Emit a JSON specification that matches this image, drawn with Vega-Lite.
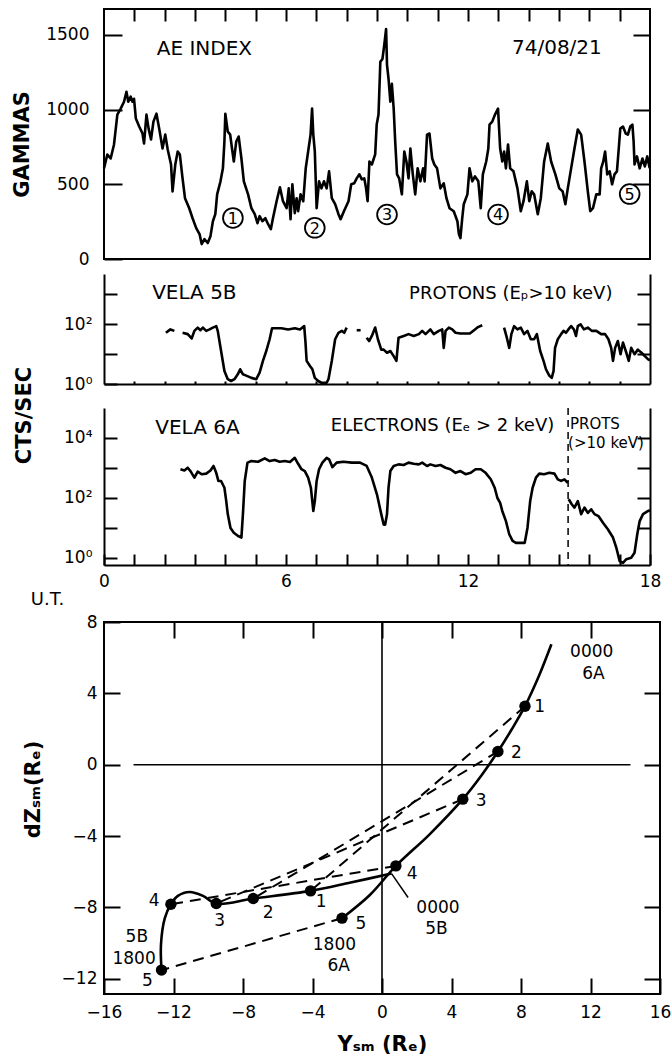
{
  "$schema": "https://vega.github.io/schema/vega-lite/v6.json",
  "padding": {"left": 9, "top": 7, "right": 2, "bottom": 4},
  "background": "white",
  "bounds": "flush",
  "spacing": 5,
  "config": {
    "font": "DejaVu Sans",
    "view": {"stroke": null},
    "axis": {"grid": false, "labelFont": "DejaVu Sans", "labelFontSize": 17, "labelColor": "black", "tickColor": "black", "tickWidth": 2, "domainColor": "black", "domainWidth": 2, "titleFont": "DejaVu Sans", "titleColor": "black", "labelFlush": false, "labelOverlap": false},
    "text": {"font": "DejaVu Sans", "color": "black"}
  },
  "datasets": {
    "ae": [
      {"h":0.0,"ae":607},{"h":0.11,"ae":700},{"h":0.22,"ae":673},{"h":0.33,"ae":767},{"h":0.44,"ae":967},{"h":0.55,"ae":1007},{"h":0.66,"ae":1053},{"h":0.74,"ae":1120},{"h":0.8,"ae":1053},{"h":0.88,"ae":1087},{"h":0.94,"ae":1053},{"h":0.99,"ae":1073},{"h":1.05,"ae":940},{"h":1.16,"ae":887},{"h":1.27,"ae":840},{"h":1.32,"ae":773},{"h":1.4,"ae":967},{"h":1.47,"ae":873},{"h":1.55,"ae":800},{"h":1.63,"ae":920},{"h":1.73,"ae":973},{"h":1.82,"ae":873},{"h":1.93,"ae":740},{"h":2.02,"ae":833},{"h":2.1,"ae":733},{"h":2.21,"ae":633},{"h":2.26,"ae":453},{"h":2.35,"ae":633},{"h":2.43,"ae":720},{"h":2.5,"ae":700},{"h":2.59,"ae":540},{"h":2.67,"ae":407},{"h":2.81,"ae":340},{"h":2.92,"ae":273},{"h":3.04,"ae":207},{"h":3.15,"ae":167},{"h":3.22,"ae":100},{"h":3.31,"ae":133},{"h":3.42,"ae":107},{"h":3.51,"ae":153},{"h":3.59,"ae":253},{"h":3.67,"ae":300},{"h":3.73,"ae":433},{"h":3.84,"ae":520},{"h":3.92,"ae":607},{"h":3.97,"ae":787},{"h":4.0,"ae":973},{"h":4.08,"ae":853},{"h":4.16,"ae":833},{"h":4.22,"ae":740},{"h":4.28,"ae":653},{"h":4.36,"ae":787},{"h":4.44,"ae":820},{"h":4.53,"ae":673},{"h":4.61,"ae":520},{"h":4.75,"ae":433},{"h":4.86,"ae":340},{"h":4.97,"ae":300},{"h":5.06,"ae":240},{"h":5.13,"ae":287},{"h":5.22,"ae":253},{"h":5.32,"ae":273},{"h":5.41,"ae":233},{"h":5.5,"ae":200},{"h":5.57,"ae":273},{"h":5.69,"ae":387},{"h":5.8,"ae":480},{"h":5.9,"ae":387},{"h":6.02,"ae":340},{"h":6.09,"ae":473},{"h":6.15,"ae":267},{"h":6.21,"ae":500},{"h":6.29,"ae":307},{"h":6.35,"ae":407},{"h":6.4,"ae":320},{"h":6.48,"ae":433},{"h":6.57,"ae":387},{"h":6.65,"ae":607},{"h":6.73,"ae":720},{"h":6.81,"ae":833},{"h":6.86,"ae":1007},{"h":6.9,"ae":833},{"h":6.95,"ae":720},{"h":7.01,"ae":340},{"h":7.09,"ae":520},{"h":7.17,"ae":473},{"h":7.25,"ae":520},{"h":7.34,"ae":473},{"h":7.42,"ae":587},{"h":7.51,"ae":407},{"h":7.62,"ae":367},{"h":7.73,"ae":300},{"h":7.8,"ae":267},{"h":7.91,"ae":320},{"h":8.06,"ae":387},{"h":8.15,"ae":500},{"h":8.25,"ae":507},{"h":8.33,"ae":540},{"h":8.42,"ae":567},{"h":8.5,"ae":533},{"h":8.58,"ae":540},{"h":8.64,"ae":473},{"h":8.69,"ae":387},{"h":8.75,"ae":653},{"h":8.83,"ae":633},{"h":8.94,"ae":700},{"h":8.99,"ae":900},{"h":9.05,"ae":967},{"h":9.11,"ae":1320},{"h":9.18,"ae":1340},{"h":9.24,"ae":1433},{"h":9.3,"ae":1540},{"h":9.33,"ae":1300},{"h":9.38,"ae":1207},{"h":9.44,"ae":1053},{"h":9.49,"ae":1173},{"h":9.55,"ae":1007},{"h":9.6,"ae":787},{"h":9.66,"ae":567},{"h":9.73,"ae":540},{"h":9.82,"ae":433},{"h":9.9,"ae":720},{"h":9.97,"ae":653},{"h":10.04,"ae":540},{"h":10.1,"ae":740},{"h":10.18,"ae":567},{"h":10.26,"ae":433},{"h":10.34,"ae":607},{"h":10.43,"ae":520},{"h":10.52,"ae":607},{"h":10.57,"ae":520},{"h":10.65,"ae":833},{"h":10.73,"ae":840},{"h":10.82,"ae":673},{"h":10.89,"ae":633},{"h":10.98,"ae":607},{"h":11.09,"ae":473},{"h":11.2,"ae":507},{"h":11.29,"ae":407},{"h":11.39,"ae":340},{"h":11.53,"ae":320},{"h":11.65,"ae":253},{"h":11.7,"ae":167},{"h":11.75,"ae":140},{"h":11.81,"ae":273},{"h":11.86,"ae":367},{"h":11.98,"ae":433},{"h":12.05,"ae":607},{"h":12.14,"ae":520},{"h":12.23,"ae":553},{"h":12.34,"ae":520},{"h":12.42,"ae":340},{"h":12.49,"ae":567},{"h":12.6,"ae":653},{"h":12.67,"ae":740},{"h":12.71,"ae":900},{"h":12.8,"ae":920},{"h":12.89,"ae":967},{"h":12.99,"ae":1007},{"h":13.06,"ae":740},{"h":13.13,"ae":653},{"h":13.19,"ae":720},{"h":13.25,"ae":607},{"h":13.32,"ae":767},{"h":13.39,"ae":607},{"h":13.5,"ae":587},{"h":13.63,"ae":473},{"h":13.74,"ae":320},{"h":13.83,"ae":387},{"h":13.94,"ae":520},{"h":14.02,"ae":387},{"h":14.1,"ae":453},{"h":14.18,"ae":433},{"h":14.3,"ae":300},{"h":14.4,"ae":407},{"h":14.51,"ae":653},{"h":14.63,"ae":773},{"h":14.74,"ae":653},{"h":14.88,"ae":567},{"h":15.01,"ae":473},{"h":15.12,"ae":453},{"h":15.21,"ae":367},{"h":15.29,"ae":473},{"h":15.4,"ae":607},{"h":15.51,"ae":740},{"h":15.62,"ae":867},{"h":15.73,"ae":833},{"h":15.84,"ae":653},{"h":15.95,"ae":453},{"h":16.03,"ae":320},{"h":16.12,"ae":340},{"h":16.23,"ae":433},{"h":16.34,"ae":433},{"h":16.39,"ae":607},{"h":16.46,"ae":653},{"h":16.52,"ae":720},{"h":16.59,"ae":567},{"h":16.67,"ae":587},{"h":16.75,"ae":500},{"h":16.83,"ae":567},{"h":16.91,"ae":587},{"h":16.97,"ae":740},{"h":17.02,"ae":873},{"h":17.11,"ae":887},{"h":17.2,"ae":840},{"h":17.27,"ae":833},{"h":17.35,"ae":887},{"h":17.42,"ae":900},{"h":17.46,"ae":787},{"h":17.49,"ae":633},{"h":17.57,"ae":687},{"h":17.66,"ae":607},{"h":17.75,"ae":673},{"h":17.83,"ae":620},{"h":17.91,"ae":687},{"h":17.99,"ae":607}
    ],
    "ae_txt": [
      {"h":3.31,"ae":1407,"label":"AE  INDEX"},
      {"h":14.93,"ae":1413,"label":"74/08/21"}
    ],
    "ae_circ": [
      {"h":4.25,"ae":275,"label":"1"},
      {"h":6.95,"ae":209,"label":"2"},
      {"h":9.33,"ae":298,"label":"3"},
      {"h":12.99,"ae":298,"label":"4"},
      {"h":17.33,"ae":435,"label":"5"}
    ],
    "v5b": [
      {"seg":"A","h":2.04,"cts":51},{"seg":"A","h":2.19,"cts":66},{"seg":"A","h":2.32,"cts":59},
      {"seg":"B","h":2.59,"cts":51},{"seg":"B","h":2.76,"cts":46},{"seg":"B","h":2.89,"cts":33},{"seg":"B","h":2.98,"cts":59},{"seg":"B","h":3.09,"cts":76},{"seg":"B","h":3.18,"cts":62},{"seg":"B","h":3.26,"cts":76},{"seg":"B","h":3.37,"cts":59},{"seg":"B","h":3.48,"cts":66},{"seg":"B","h":3.59,"cts":76},{"seg":"B","h":3.70,"cts":85},{"seg":"B","h":3.75,"cts":59},{"seg":"B","h":3.86,"cts":12.6},{"seg":"B","h":3.97,"cts":2.7},{"seg":"B","h":4.08,"cts":1.45},{"seg":"B","h":4.19,"cts":1.26},{"seg":"B","h":4.30,"cts":1.45},{"seg":"B","h":4.41,"cts":2.1},{"seg":"B","h":4.49,"cts":3.1},{"seg":"B","h":4.58,"cts":2.1},{"seg":"B","h":4.69,"cts":1.9},{"seg":"B","h":4.86,"cts":1.6},{"seg":"B","h":5.02,"cts":1.45},{"seg":"B","h":5.13,"cts":2.4},{"seg":"B","h":5.24,"cts":5.9},{"seg":"B","h":5.35,"cts":12.6},{"seg":"B","h":5.46,"cts":31},{"seg":"B","h":5.54,"cts":72},{"seg":"B","h":5.68,"cts":72},{"seg":"B","h":5.85,"cts":72},{"seg":"B","h":6.07,"cts":66},{"seg":"B","h":6.29,"cts":72},{"seg":"B","h":6.46,"cts":66},{"seg":"B","h":6.6,"cts":85},{"seg":"B","h":6.64,"cts":27},{"seg":"B","h":6.68,"cts":5.9},{"seg":"B","h":6.79,"cts":4},{"seg":"B","h":6.87,"cts":3.1},{"seg":"B","h":6.95,"cts":1.6},{"seg":"B","h":7.06,"cts":1.26},{"seg":"B","h":7.17,"cts":1.1},{"seg":"B","h":7.34,"cts":1.1},{"seg":"B","h":7.40,"cts":1.45},{"seg":"B","h":7.51,"cts":5.9},{"seg":"B","h":7.62,"cts":31},{"seg":"B","h":7.73,"cts":51},{"seg":"B","h":7.84,"cts":59},{"seg":"B","h":7.92,"cts":51},{"seg":"B","h":8.0,"cts":76},
      {"seg":"C","h":8.33,"cts":62},{"seg":"C","h":8.46,"cts":62},
      {"seg":"D","h":8.66,"cts":35},{"seg":"D","h":8.74,"cts":27},{"seg":"D","h":8.83,"cts":40},{"seg":"D","h":8.94,"cts":76},{"seg":"D","h":9.03,"cts":31},{"seg":"D","h":9.14,"cts":14},{"seg":"D","h":9.22,"cts":14},{"seg":"D","h":9.33,"cts":11},{"seg":"D","h":9.44,"cts":12.6},{"seg":"D","h":9.55,"cts":8.5},{"seg":"D","h":9.64,"cts":5.9},{"seg":"D","h":9.71,"cts":35},{"seg":"D","h":9.88,"cts":40},{"seg":"D","h":10.04,"cts":46},{"seg":"D","h":10.21,"cts":40},{"seg":"D","h":10.38,"cts":46},{"seg":"D","h":10.49,"cts":59},{"seg":"D","h":10.6,"cts":46},{"seg":"D","h":10.76,"cts":66},{"seg":"D","h":10.87,"cts":46},{"seg":"D","h":11.04,"cts":59},{"seg":"D","h":11.15,"cts":66},{"seg":"D","h":11.2,"cts":16},{"seg":"D","h":11.26,"cts":59},{"seg":"D","h":11.37,"cts":76},{"seg":"D","h":11.48,"cts":66},{"seg":"D","h":11.59,"cts":51},{"seg":"D","h":11.75,"cts":48},{"seg":"D","h":11.92,"cts":48},{"seg":"D","h":12.06,"cts":48},{"seg":"D","h":12.2,"cts":62},{"seg":"D","h":12.33,"cts":79},{"seg":"D","h":12.47,"cts":91},
      {"seg":"E","h":13.19,"cts":76},{"seg":"E","h":13.28,"cts":35},{"seg":"E","h":13.36,"cts":16},{"seg":"E","h":13.43,"cts":46},{"seg":"E","h":13.52,"cts":85},{"seg":"E","h":13.63,"cts":66},{"seg":"E","h":13.74,"cts":76},{"seg":"E","h":13.85,"cts":46},{"seg":"E","h":13.96,"cts":59},{"seg":"E","h":14.07,"cts":31},{"seg":"E","h":14.18,"cts":31},{"seg":"E","h":14.27,"cts":46},{"seg":"E","h":14.38,"cts":12.6},{"seg":"E","h":14.49,"cts":5.9},{"seg":"E","h":14.57,"cts":3.1},{"seg":"E","h":14.68,"cts":1.9},{"seg":"E","h":14.76,"cts":1.6},{"seg":"E","h":14.82,"cts":2.7},{"seg":"E","h":14.87,"cts":16},{"seg":"E","h":14.96,"cts":31},{"seg":"E","h":15.07,"cts":46},{"seg":"E","h":15.15,"cts":59},{"seg":"E","h":15.23,"cts":51},{"seg":"E","h":15.31,"cts":66},{"seg":"E","h":15.4,"cts":85},{"seg":"E","h":15.49,"cts":66},{"seg":"E","h":15.56,"cts":40},{"seg":"E","h":15.62,"cts":85},{"seg":"E","h":15.71,"cts":98},{"seg":"E","h":15.82,"cts":66},{"seg":"E","h":15.95,"cts":76},{"seg":"E","h":16.08,"cts":59},{"seg":"E","h":16.23,"cts":59},{"seg":"E","h":16.39,"cts":46},{"seg":"E","h":16.52,"cts":46},{"seg":"E","h":16.63,"cts":31},{"seg":"E","h":16.72,"cts":16},{"seg":"E","h":16.78,"cts":5.9},{"seg":"E","h":16.85,"cts":16},{"seg":"E","h":16.94,"cts":27},{"seg":"E","h":17.03,"cts":9.8},{"seg":"E","h":17.11,"cts":24},{"seg":"E","h":17.22,"cts":11},{"seg":"E","h":17.3,"cts":5.9},{"seg":"E","h":17.38,"cts":16},{"seg":"E","h":17.49,"cts":9.8},{"seg":"E","h":17.6,"cts":14},{"seg":"E","h":17.72,"cts":11},{"seg":"E","h":17.83,"cts":8.5},{"seg":"E","h":17.94,"cts":6.6},{"seg":"E","h":18.0,"cts":6.2}
    ],
    "v5b_t20": [{"h":2.98,"cts":1120,"label":"VELA  5B"}],
    "v5b_t18": [{"h":13.41,"cts":1000,"label":"PROTONS (Eₚ>10 keV)"}],
    "v6a": [
      {"seg":"e","h":2.52,"cts":910},{"seg":"e","h":2.65,"cts":830},{"seg":"e","h":2.76,"cts":1020},{"seg":"e","h":2.85,"cts":790},{"seg":"e","h":2.98,"cts":480},{"seg":"e","h":3.09,"cts":760},{"seg":"e","h":3.22,"cts":620},{"seg":"e","h":3.37,"cts":650},{"seg":"e","h":3.51,"cts":830},{"seg":"e","h":3.61,"cts":1170},{"seg":"e","h":3.70,"cts":690},{"seg":"e","h":3.77,"cts":370},{"seg":"e","h":3.86,"cts":370},{"seg":"e","h":3.97,"cts":220},{"seg":"e","h":4.03,"cts":79},{"seg":"e","h":4.08,"cts":29},{"seg":"e","h":4.17,"cts":10},{"seg":"e","h":4.28,"cts":6.9},{"seg":"e","h":4.42,"cts":5.4},{"seg":"e","h":4.53,"cts":4.8},{"seg":"e","h":4.58,"cts":29},{"seg":"e","h":4.64,"cts":370},{"seg":"e","h":4.73,"cts":1510},{"seg":"e","h":4.86,"cts":1700},{"seg":"e","h":5.08,"cts":1620},{"seg":"e","h":5.3,"cts":2090},{"seg":"e","h":5.46,"cts":1700},{"seg":"e","h":5.63,"cts":1860},{"seg":"e","h":5.79,"cts":1620},{"seg":"e","h":5.96,"cts":1700},{"seg":"e","h":6.13,"cts":1580},{"seg":"e","h":6.29,"cts":2190},{"seg":"e","h":6.4,"cts":1380},{"seg":"e","h":6.51,"cts":910},{"seg":"e","h":6.62,"cts":790},{"seg":"e","h":6.73,"cts":480},{"seg":"e","h":6.82,"cts":220},{"seg":"e","h":6.9,"cts":37},{"seg":"e","h":6.95,"cts":79},{"seg":"e","h":7.01,"cts":370},{"seg":"e","h":7.09,"cts":910},{"seg":"e","h":7.2,"cts":1510},{"seg":"e","h":7.34,"cts":2190},{"seg":"e","h":7.42,"cts":1950},{"seg":"e","h":7.53,"cts":1070},{"seg":"e","h":7.67,"cts":1510},{"seg":"e","h":7.89,"cts":1620},{"seg":"e","h":8.17,"cts":1510},{"seg":"e","h":8.44,"cts":1510},{"seg":"e","h":8.66,"cts":1170},{"seg":"e","h":8.83,"cts":480},{"seg":"e","h":9.0,"cts":130},{"seg":"e","h":9.14,"cts":29},{"seg":"e","h":9.22,"cts":13},{"seg":"e","h":9.27,"cts":13},{"seg":"e","h":9.33,"cts":29},{"seg":"e","h":9.38,"cts":220},{"seg":"e","h":9.44,"cts":790},{"seg":"e","h":9.55,"cts":1170},{"seg":"e","h":9.71,"cts":1320},{"seg":"e","h":9.88,"cts":1260},{"seg":"e","h":10.04,"cts":1510},{"seg":"e","h":10.21,"cts":1380},{"seg":"e","h":10.38,"cts":1320},{"seg":"e","h":10.49,"cts":1510},{"seg":"e","h":10.65,"cts":1170},{"seg":"e","h":10.76,"cts":1320},{"seg":"e","h":10.93,"cts":1170},{"seg":"e","h":11.09,"cts":1260},{"seg":"e","h":11.26,"cts":1020},{"seg":"e","h":11.42,"cts":910},{"seg":"e","h":11.59,"cts":690},{"seg":"e","h":11.75,"cts":790},{"seg":"e","h":11.92,"cts":620},{"seg":"e","h":12.09,"cts":690},{"seg":"e","h":12.25,"cts":910},{"seg":"e","h":12.42,"cts":910},{"seg":"e","h":12.58,"cts":690},{"seg":"e","h":12.75,"cts":420},{"seg":"e","h":12.88,"cts":220},{"seg":"e","h":12.97,"cts":100},{"seg":"e","h":13.06,"cts":69},{"seg":"e","h":13.13,"cts":37},{"seg":"e","h":13.25,"cts":17},{"seg":"e","h":13.36,"cts":6.2},{"seg":"e","h":13.47,"cts":3.7},{"seg":"e","h":13.58,"cts":3.2},{"seg":"e","h":13.74,"cts":3.2},{"seg":"e","h":13.87,"cts":3.2},{"seg":"e","h":13.96,"cts":10},{"seg":"e","h":14.05,"cts":79},{"seg":"e","h":14.13,"cts":220},{"seg":"e","h":14.24,"cts":480},{"seg":"e","h":14.35,"cts":650},{"seg":"e","h":14.51,"cts":620},{"seg":"e","h":14.68,"cts":690},{"seg":"e","h":14.85,"cts":650},{"seg":"e","h":14.96,"cts":420},{"seg":"e","h":15.07,"cts":370},{"seg":"e","h":15.18,"cts":420},{"seg":"e","h":15.29,"cts":320},
      {"seg":"p","h":15.32,"cts":91},{"seg":"p","h":15.42,"cts":62},{"seg":"p","h":15.51,"cts":48},{"seg":"p","h":15.62,"cts":79},{"seg":"p","h":15.73,"cts":29},{"seg":"p","h":15.84,"cts":48},{"seg":"p","h":15.95,"cts":32},{"seg":"p","h":16.06,"cts":42},{"seg":"p","h":16.17,"cts":29},{"seg":"p","h":16.3,"cts":25},{"seg":"p","h":16.45,"cts":15},{"seg":"p","h":16.61,"cts":9.1},{"seg":"p","h":16.78,"cts":4.8},{"seg":"p","h":16.89,"cts":2.2},{"seg":"p","h":17.0,"cts":0.79},{"seg":"p","h":17.11,"cts":0.69},{"seg":"p","h":17.22,"cts":0.91},{"seg":"p","h":17.38,"cts":1.02},{"seg":"p","h":17.49,"cts":1.5},{"seg":"p","h":17.58,"cts":6.2},{"seg":"p","h":17.66,"cts":17},{"seg":"p","h":17.77,"cts":29},{"seg":"p","h":17.94,"cts":37},{"seg":"p","h":18.0,"cts":39}
    ],
    "v6a_t20": [{"h":3.08,"cts":21400,"label":"VELA  6A"}],
    "v6a_t18": [{"h":11.16,"cts":25100,"label":"ELECTRONS (Eₑ > 2 keV)"}],
    "v6a_t16": [{"h":15.36,"cts":28500,"label":"PROTS"},{"h":15.3,"cts":7000,"label":"(>10 keV)"}],
    "v6a_rule": [{"h":15.3}],
    "zero": [
      {"y_sm":-14.3,"y_sm2":14.3,"dz":0,"dz2":0},
      {"y_sm":0,"y_sm2":0,"dz":-12.85,"dz2":8}
    ],
    "leader": [{"y_sm":0.55,"y_sm2":1.5,"dz":-6.1,"dz2":-7.44}],
    "orbit": [
      {"track":"6A","i":0,"y_sm":9.75,"dz":6.75},{"track":"6A","i":1,"y_sm":9.03,"dz":4.97},{"track":"6A","i":2,"y_sm":8.23,"dz":3.28},{"track":"6A","i":3,"y_sm":7.47,"dz":1.99},{"track":"6A","i":4,"y_sm":6.67,"dz":0.74},{"track":"6A","i":5,"y_sm":5.7,"dz":-0.63},{"track":"6A","i":6,"y_sm":4.65,"dz":-1.93},{"track":"6A","i":7,"y_sm":2.74,"dz":-3.9},{"track":"6A","i":8,"y_sm":0.8,"dz":-5.67},{"track":"6A","i":9,"y_sm":-0.7,"dz":-7.3},{"track":"6A","i":10,"y_sm":-2.3,"dz":-8.6},
      {"track":"5B","i":0,"y_sm":0.55,"dz":-6.1},{"track":"5B","i":1,"y_sm":-1.8,"dz":-6.6},{"track":"5B","i":2,"y_sm":-4.11,"dz":-7.07},{"track":"5B","i":3,"y_sm":-7.41,"dz":-7.5},{"track":"5B","i":4,"y_sm":-9.54,"dz":-7.78},{"track":"5B","i":5,"y_sm":-10.3,"dz":-7.35},{"track":"5B","i":6,"y_sm":-11.07,"dz":-7.13},{"track":"5B","i":7,"y_sm":-11.75,"dz":-7.35},{"track":"5B","i":8,"y_sm":-12.15,"dz":-7.82},{"track":"5B","i":9,"y_sm":-12.5,"dz":-8.6},{"track":"5B","i":10,"y_sm":-12.72,"dz":-10.06},{"track":"5B","i":11,"y_sm":-12.69,"dz":-11.51}
    ],
    "links": [
      {"pair":1,"i":0,"y_sm":8.23,"dz":3.28},{"pair":1,"i":1,"y_sm":-4.11,"dz":-7.07},
      {"pair":2,"i":0,"y_sm":6.67,"dz":0.74},{"pair":2,"i":1,"y_sm":-7.41,"dz":-7.5},
      {"pair":3,"i":0,"y_sm":4.65,"dz":-1.93},{"pair":3,"i":1,"y_sm":-9.54,"dz":-7.78},
      {"pair":4,"i":0,"y_sm":0.8,"dz":-5.67},{"pair":4,"i":1,"y_sm":-12.15,"dz":-7.82},
      {"pair":5,"i":0,"y_sm":-2.3,"dz":-8.6},{"pair":5,"i":1,"y_sm":-12.69,"dz":-11.51}
    ],
    "pts": [
      {"sat":"6A","n":1,"y_sm":8.23,"dz":3.28},{"sat":"6A","n":2,"y_sm":6.67,"dz":0.74},{"sat":"6A","n":3,"y_sm":4.65,"dz":-1.93},{"sat":"6A","n":4,"y_sm":0.8,"dz":-5.67},{"sat":"6A","n":5,"y_sm":-2.3,"dz":-8.6},
      {"sat":"5B","n":1,"y_sm":-4.11,"dz":-7.07},{"sat":"5B","n":2,"y_sm":-7.41,"dz":-7.5},{"sat":"5B","n":3,"y_sm":-9.54,"dz":-7.78},{"sat":"5B","n":4,"y_sm":-12.15,"dz":-7.82},{"sat":"5B","n":5,"y_sm":-12.69,"dz":-11.51}
    ],
    "orbit_txt": [
      {"y_sm":9.07,"dz":3.24,"label":"1"},{"y_sm":7.73,"dz":0.68,"label":"2"},{"y_sm":5.71,"dz":-2.03,"label":"3"},{"y_sm":1.73,"dz":-6.14,"label":"4"},{"y_sm":-1.22,"dz":-8.94,"label":"5"},
      {"y_sm":-3.5,"dz":-7.72,"label":"1"},{"y_sm":-6.55,"dz":-8.29,"label":"2"},{"y_sm":-9.35,"dz":-8.75,"label":"3"},{"y_sm":-13.12,"dz":-7.63,"label":"4"},{"y_sm":-13.5,"dz":-12.11,"label":"5"},
      {"y_sm":-14.11,"dz":-9.68,"label":"5B"},{"y_sm":-14.27,"dz":-10.88,"label":"1800"},
      {"y_sm":-2.74,"dz":-10.08,"label":"1800"},{"y_sm":-2.49,"dz":-11.28,"label":"6A"},
      {"y_sm":12.07,"dz":6.3,"label":"0000"},{"y_sm":12.17,"dz":5.1,"label":"6A"},
      {"y_sm":3.22,"dz":-8.02,"label":"0000"},{"y_sm":3.13,"dz":-9.22,"label":"5B"}
    ]
  },
  "vconcat": [
    {
      "width": 546, "height": 250,
      "view": {"stroke": "black", "strokeWidth": 2},
      "resolve": {"axis": {"x": "independent", "y": "independent"}},
      "layer": [
        {
          "data": {"name": "ae"},
          "mark": {"type": "line", "color": "black", "strokeWidth": 2.6, "strokeJoin": "round"},
          "encoding": {
            "x": {"field": "h", "type": "quantitative", "scale": {"domain": [0, 18], "nice": false, "zero": false},
                  "axis": {"orient": "top", "values": [1,2,3,4,5,6,7,8,9,10,11,12,13,14,15,16,17], "labels": false, "domain": false, "tickSize": -12, "title": null}},
            "y": {"field": "ae", "type": "quantitative", "scale": {"domain": [0, 1674], "nice": false},
                  "axis": {"orient": "left", "values": [0, 500, 1000, 1500], "format": "d", "domain": false, "tickSize": -18, "labelPadding": 33,
                           "title": "GAMMAS", "titleFontSize": 21, "titleFontWeight": "bold", "titleX": -82, "titleY": 135, "titleAngle": -90, "titleAlign": "center", "titleBaseline": "middle"}}
          }
        },
        {
          "data": {"name": "ae_txt"},
          "mark": {"type": "text", "fontSize": 20, "align": "center", "baseline": "middle"},
          "encoding": {
            "x": {"field": "h", "type": "quantitative", "scale": {"domain": [0, 18], "nice": false, "zero": false}, "axis": null},
            "y": {"field": "ae", "type": "quantitative", "scale": {"domain": [0, 1674], "nice": false},
                  "axis": {"orient": "right", "values": [500, 1000, 1500], "labels": false, "domain": false, "tickSize": -17, "title": null}},
            "text": {"field": "label"}
          }
        },
        {
          "data": {"name": "ae_circ"},
          "mark": {"type": "point", "shape": "circle", "filled": false, "color": "black", "strokeWidth": 1.8, "size": 390, "opacity": 1},
          "encoding": {
            "x": {"field": "h", "type": "quantitative", "scale": {"domain": [0, 18], "nice": false, "zero": false}, "axis": null},
            "y": {"field": "ae", "type": "quantitative", "scale": {"domain": [0, 1674], "nice": false}, "axis": null}
          }
        },
        {
          "data": {"name": "ae_circ"},
          "mark": {"type": "text", "fontSize": 16, "align": "center", "baseline": "middle", "dy": 1},
          "encoding": {
            "x": {"field": "h", "type": "quantitative", "scale": {"domain": [0, 18], "nice": false, "zero": false}, "axis": null},
            "y": {"field": "ae", "type": "quantitative", "scale": {"domain": [0, 1674], "nice": false}, "axis": null},
            "text": {"field": "label"}
          }
        }
      ]
    },
    {"width": 546, "height": 5, "view": {"stroke": null}, "data": {"values": []}, "mark": "point"},
    {
      "width": 546, "height": 110,
      "view": {"stroke": null},
      "resolve": {"axis": {"x": "independent", "y": "independent"}},
      "layer": [
        {
          "data": {"name": "v5b"},
          "mark": {"type": "line", "color": "black", "strokeWidth": 2.6, "strokeJoin": "round"},
          "encoding": {
            "x": {"field": "h", "type": "quantitative", "scale": {"domain": [0, 18], "nice": false, "zero": false},
                  "axis": {"orient": "bottom", "values": [1,2,3,4,5,6,7,8,9,10,11,12,13,14,15,16,17], "labels": false, "domain": true, "tickSize": -3, "title": null}},
            "y": {"field": "cts", "type": "quantitative", "scale": {"type": "log", "domain": [1, 4642], "nice": false},
                  "axis": {"orient": "left", "values": [1, 10, 100, 1000], "domain": true, "tickSize": -13, "labelPadding": 25,
                           "labelExpr": "datum.value == 1 ? '10⁰' : datum.value == 100 ? '10²' : ''", "title": null}},
            "detail": {"field": "seg"}
          }
        },
        {
          "data": {"name": "v5b_t20"},
          "mark": {"type": "text", "fontSize": 20, "align": "center", "baseline": "middle"},
          "encoding": {
            "x": {"field": "h", "type": "quantitative", "scale": {"domain": [0, 18], "nice": false, "zero": false}, "axis": null},
            "y": {"field": "cts", "type": "quantitative", "scale": {"type": "log", "domain": [1, 4642], "nice": false},
                  "axis": {"orient": "right", "values": [10, 100, 1000], "labels": false, "domain": true, "tickSize": -13, "title": null}},
            "text": {"field": "label"}
          }
        },
        {
          "data": {"name": "v5b_t18"},
          "mark": {"type": "text", "fontSize": 18, "align": "center", "baseline": "middle"},
          "encoding": {
            "x": {"field": "h", "type": "quantitative", "scale": {"domain": [0, 18], "nice": false, "zero": false}, "axis": null},
            "y": {"field": "cts", "type": "quantitative", "scale": {"type": "log", "domain": [1, 4642], "nice": false}, "axis": null},
            "text": {"field": "label"}
          }
        }
      ]
    },
    {"width": 546, "height": 14, "view": {"stroke": null}, "data": {"values": []}, "mark": "point"},
    {
      "width": 546, "height": 157,
      "view": {"stroke": null},
      "resolve": {"axis": {"x": "independent", "y": "independent"}},
      "layer": [
        {
          "data": {"name": "v6a"},
          "mark": {"type": "line", "color": "black", "strokeWidth": 2.6, "strokeJoin": "round"},
          "encoding": {
            "x": {"field": "h", "type": "quantitative", "scale": {"domain": [0, 18], "nice": false, "zero": false},
                  "axis": {"orient": "bottom", "values": [0,1,2,3,4,5,6,7,8,9,10,11,12,13,14,15,16,17,18], "domain": true, "tickSize": -11, "labelPadding": 19,
                           "labelExpr": "datum.value % 6 == 0 ? datum.label : ''",
                           "title": "U.T.", "titleFontSize": 18, "titleFontWeight": "normal", "titleX": -57, "titleY": 34, "titleAlign": "center", "titleBaseline": "middle", "titleAngle": 0}},
            "y": {"field": "cts", "type": "quantitative", "scale": {"type": "log", "domain": [0.584, 100000], "nice": false},
                  "axis": {"orient": "left", "values": [1, 10, 100, 1000, 10000], "domain": true, "tickSize": -13, "labelPadding": 25,
                           "labelExpr": "datum.value == 1 ? '10⁰' : datum.value == 100 ? '10²' : datum.value == 10000 ? '10⁴' : ''",
                           "title": "CTS/SEC", "titleFontSize": 21, "titleFontWeight": "bold", "titleX": -80, "titleY": 7, "titleAngle": -90, "titleAlign": "center", "titleBaseline": "middle"}},
            "detail": {"field": "seg"}
          }
        },
        {
          "data": {"name": "v6a_rule"},
          "mark": {"type": "rule", "color": "black", "strokeWidth": 1.5, "strokeDash": [7, 5]},
          "encoding": {
            "x": {"field": "h", "type": "quantitative", "scale": {"domain": [0, 18], "nice": false, "zero": false}, "axis": null}
          }
        },
        {
          "data": {"name": "v6a_t20"},
          "mark": {"type": "text", "fontSize": 20, "align": "center", "baseline": "middle"},
          "encoding": {
            "x": {"field": "h", "type": "quantitative", "scale": {"domain": [0, 18], "nice": false, "zero": false}, "axis": null},
            "y": {"field": "cts", "type": "quantitative", "scale": {"type": "log", "domain": [0.584, 100000], "nice": false},
                  "axis": {"orient": "right", "values": [10, 100, 1000, 10000], "labels": false, "domain": true, "tickSize": -13, "title": null}},
            "text": {"field": "label"}
          }
        },
        {
          "data": {"name": "v6a_t18"},
          "mark": {"type": "text", "fontSize": 18, "align": "center", "baseline": "middle"},
          "encoding": {
            "x": {"field": "h", "type": "quantitative", "scale": {"domain": [0, 18], "nice": false, "zero": false}, "axis": null},
            "y": {"field": "cts", "type": "quantitative", "scale": {"type": "log", "domain": [0.584, 100000], "nice": false}, "axis": null},
            "text": {"field": "label"}
          }
        },
        {
          "data": {"name": "v6a_t16"},
          "mark": {"type": "text", "fontSize": 15, "align": "left", "baseline": "middle"},
          "encoding": {
            "x": {"field": "h", "type": "quantitative", "scale": {"domain": [0, 18], "nice": false, "zero": false}, "axis": null},
            "y": {"field": "cts", "type": "quantitative", "scale": {"type": "log", "domain": [0.584, 100000], "nice": false}, "axis": null},
            "text": {"field": "label"}
          }
        }
      ]
    },
    {"width": 546, "height": 47, "view": {"stroke": null}, "data": {"values": []}, "mark": "point"},
    {
      "width": 556, "height": 372,
      "view": {"stroke": "black", "strokeWidth": 2},
      "resolve": {"axis": {"x": "independent", "y": "independent"}},
      "layer": [
        {
          "data": {"name": "zero"},
          "mark": {"type": "rule", "color": "black", "strokeWidth": 1.6},
          "encoding": {
            "x": {"field": "y_sm", "type": "quantitative", "scale": {"domain": [-16, 16], "nice": false},
                  "axis": {"orient": "bottom", "values": [-16,-12,-8,-4,0,4,8,12,16], "format": "d", "domain": false, "tickSize": -16, "labelPadding": 26,
                           "title": "Yₛₘ (Rₑ)", "titleFontSize": 21, "titleFontWeight": "bold", "titleY": 50, "titleBaseline": "middle"}},
            "x2": {"field": "y_sm2"},
            "y": {"field": "dz", "type": "quantitative", "scale": {"domain": [-12.85, 8], "nice": false, "zero": false},
                  "axis": {"orient": "left", "values": [-12, -8, -4, 0, 4, 8], "format": "d", "domain": false, "tickSize": -16, "labelPadding": 23,
                           "title": "dZₛₘ(Rₑ)", "titleFontSize": 21, "titleFontWeight": "bold", "titleX": -71, "titleY": 167, "titleAngle": -90, "titleAlign": "center", "titleBaseline": "middle"}},
            "y2": {"field": "dz2"}
          }
        },
        {
          "data": {"name": "leader"},
          "mark": {"type": "rule", "color": "black", "strokeWidth": 1.5},
          "encoding": {
            "x": {"field": "y_sm", "type": "quantitative", "scale": {"domain": [-16, 16], "nice": false},
                  "axis": {"orient": "top", "values": [-12,-8,-4,0,4,8,12], "labels": false, "domain": false, "tickSize": -16, "title": null}},
            "x2": {"field": "y_sm2"},
            "y": {"field": "dz", "type": "quantitative", "scale": {"domain": [-12.85, 8], "nice": false, "zero": false},
                  "axis": {"orient": "right", "values": [-12, -8, -4, 0, 4], "labels": false, "domain": false, "tickSize": -16, "title": null}},
            "y2": {"field": "dz2"}
          }
        },
        {
          "data": {"name": "links"},
          "mark": {"type": "line", "color": "black", "strokeWidth": 2, "strokeDash": [11, 7]},
          "encoding": {
            "x": {"field": "y_sm", "type": "quantitative", "scale": {"domain": [-16, 16], "nice": false}, "axis": null},
            "y": {"field": "dz", "type": "quantitative", "scale": {"domain": [-12.85, 8], "nice": false, "zero": false}, "axis": null},
            "detail": {"field": "pair"},
            "order": {"field": "i"}
          }
        },
        {
          "data": {"name": "orbit"},
          "mark": {"type": "line", "color": "black", "strokeWidth": 2.6, "interpolate": "catmull-rom"},
          "encoding": {
            "x": {"field": "y_sm", "type": "quantitative", "scale": {"domain": [-16, 16], "nice": false}, "axis": null},
            "y": {"field": "dz", "type": "quantitative", "scale": {"domain": [-12.85, 8], "nice": false, "zero": false}, "axis": null},
            "detail": {"field": "track"},
            "order": {"field": "i"}
          }
        },
        {
          "data": {"name": "pts"},
          "mark": {"type": "circle", "color": "black", "opacity": 1, "size": 130},
          "encoding": {
            "x": {"field": "y_sm", "type": "quantitative", "scale": {"domain": [-16, 16], "nice": false}, "axis": null},
            "y": {"field": "dz", "type": "quantitative", "scale": {"domain": [-12.85, 8], "nice": false, "zero": false}, "axis": null}
          }
        },
        {
          "data": {"name": "orbit_txt"},
          "mark": {"type": "text", "fontSize": 17, "align": "center", "baseline": "middle"},
          "encoding": {
            "x": {"field": "y_sm", "type": "quantitative", "scale": {"domain": [-16, 16], "nice": false}, "axis": null},
            "y": {"field": "dz", "type": "quantitative", "scale": {"domain": [-12.85, 8], "nice": false, "zero": false}, "axis": null},
            "text": {"field": "label"}
          }
        }
      ]
    }
  ]
}
